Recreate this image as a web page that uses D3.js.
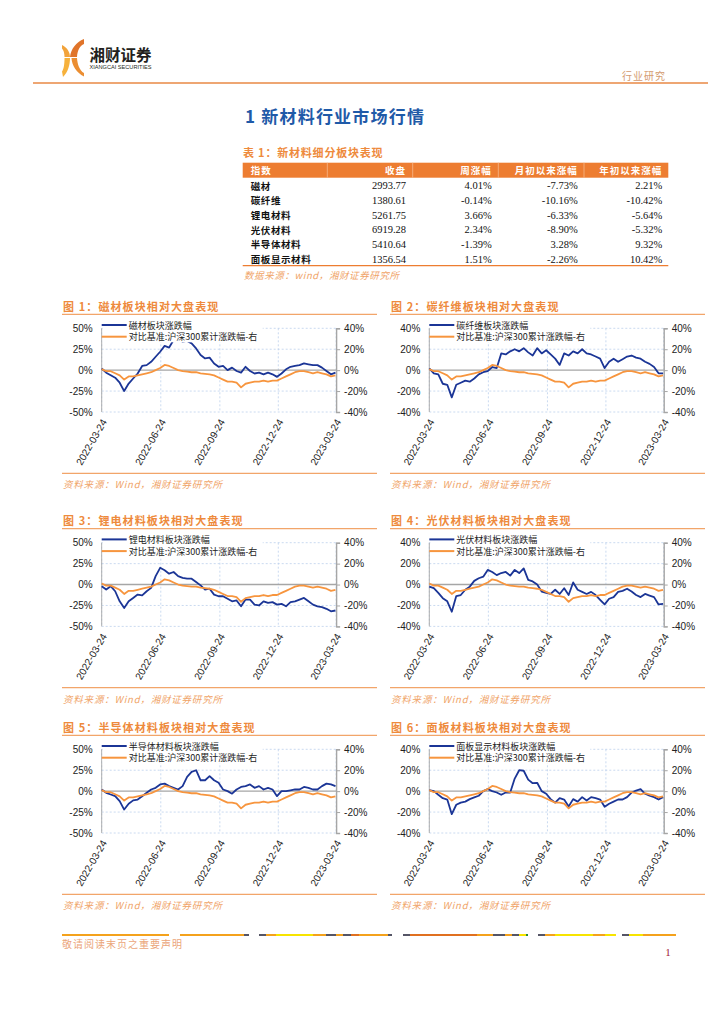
<!DOCTYPE html>
<html><head><meta charset="utf-8">
<script src="https://cdn.jsdelivr.net/npm/d3@7"></script>
<style>
body{margin:0;background:#fff;}
svg{display:block;}
</style></head><body>
<svg id="page" width="724" height="1024"></svg>
<script>
// ---------------- DATA ----------------
const tableColumns = ["指数", "收盘", "周涨幅", "月初以来涨幅", "年初以来涨幅"];
const tableNames = ["磁材", "碳纤维", "锂电材料", "光伏材料", "半导体材料", "面板显示材料"];
const tableClose = ["2993.77", "1380.61", "5261.75", "6919.28", "5410.64", "1356.54"];
const tableWeek = ["4.01%", "-0.14%", "3.66%", "2.34%", "-1.39%", "1.51%"];
const tableMonth = ["-7.73%", "-10.16%", "-6.33%", "-8.90%", "3.28%", "-2.26%"];
const tableYear = ["2.21%", "-10.42%", "-5.64%", "-5.32%", "9.32%", "10.42%"];

const dateTickLabels = ["2022-03-24", "2022-06-24", "2022-09-24", "2022-12-24", "2023-03-24"];
const ticks50 = [50, 25, 0, -25, -50];
const ticks40 = [40, 20, 0, -20, -40];

// weekly readings (% change) starting 2022-03-24
const csi300Change = [1,-1,-1,-3,-5,-9,-6,-6,-5,-4,-3,-2,0,2,5,4,2,0,-1,-1.5,-2,-2,-3,-3.5,-4,-5,-7,-9,-11,-11,-12,-16.5,-13,-12,-11,-11,-10,-11,-10,-10,-8,-6,-4,-2,-1,-1,-2,-3,-2,-3,-4,-6,-5];
const magneticChange = [2,-3,-6,-9,-15,-25,-16,-10,-4,5,6,10,16,22,29,27,36,38,34,35,32,26,18,14,15,8,4,5,0,3,-1,-3,4,-1,-4,-3,-5,-3,-5,-8,-4,1,4,5,6,8,7,6,6,3,-1,-5,-3];
const carbonFiberChange = [1.6,-3,-4,-13,-14,-26,-14,-12,-10,-11,-8,-4,-2,-1,3,2,16,15,18,20,18,21,17,14,21,16,19,15,11,5,16,14,18,16,20,16,15,13,11,2,8,11,8,10.5,13,14,12,11,8,6,3,-3,-3];
const lithiumChange = [-2,-6,-2,-8,-20,-28,-20,-16,-12,-13,-8,-4,10,20,17,13,15,10,8,7,7,3,-1,-6,-5,-12,-14,-14,-17,-20,-19,-26,-18,-18,-24,-25,-20,-22,-21,-24,-23,-26,-21,-20,-18,-16,-20,-24,-26,-27,-29,-32,-31];
const pvChange = [-2,-3.5,-8,-13,-16,-26,-11,-10,-5,-2,3.5,6,7.5,14,12,9,11,12,8.5,14,11,15.5,4.5,3,0,-6.7,-8,-9,-5,-9,-3.5,-10,2,-5,-7,-9,-7,-10,-14.6,-19,-13.6,-12,-7,-6,-4,-6.7,-10,-12,-9,-10.5,-12,-19,-18.5];
const semiconductorChange = [2,-2,-4,-6,-12,-22,-15,-11,-10,-6,-2,2,4,8,9,6,4,2,6,17,23,25,13,13,18,13,10,2,0,-3,2,5,6,8,4,6,2,4,2,-6,0,0,1,2,2,5,4,2,2,6,9,8,6];
const displayChange = [1,0,-3.5,-6.7,-8,-22,-13,-11,-10,-7.6,-6,-4.4,0,2,0,-1.3,-3.5,-1.3,-1.3,12,20,19.5,11,7.6,8,0,-2.5,-7.6,-11,-6.7,-8,-14.6,-7.6,-10,-5.7,-9,-5.7,-6.7,-8,-15,-12,-10,-8,-8,-5.7,-1.3,0.6,2,-2.5,-4.4,-5.7,-8,-5.7];

const chartTitles = ["图 1：磁材板块相对大盘表现", "图 2：碳纤维板块相对大盘表现", "图 3：锂电材料板块相对大盘表现",
  "图 4：光伏材料板块相对大盘表现", "图 5：半导体材料板块相对大盘表现", "图 6：面板材料板块相对大盘表现"];
const sectorLegends = ["磁材板块涨跌幅", "碳纤维板块涨跌幅", "锂电材料板块涨跌幅", "光伏材料板块涨跌幅", "半导体材料板块涨跌幅", "面板显示材料板块涨跌幅"];
const benchmarkLegend = "对比基准:沪深300累计涨跌幅-右";
const sectorSeries = [magneticChange, carbonFiberChange, lithiumChange, pvChange, semiconductorChange, displayChange];
const leftTickSets = [ticks50, ticks40, ticks50, ticks40, ticks50, ticks40];

const footerSegments = [
  [62,169,"#f4a21c"],[180,244,"#f4a21c"],[244,249,"#555566"],[259,266,"#555566"],[266,276,"#f4a21c"],[276,313,"#f7e400"],
  [313,326,"#f4a21c"],[326,336,"#555566"],[336,343,"#f4a21c"],[343,351,"#555566"],[351,359,"#e07020"],[359,388,"#f4a21c"],
  [388,392,"#555566"],[403,410,"#555566"],[410,477,"#e07020"],[477,493,"#f4a21c"],[493,505,"#555566"],[505,512,"#f4a21c"],
  [512,519,"#555566"],[519,526,"#f7e400"],[526,528,"#2a8a3a"],[538,545,"#555566"],[545,555,"#f4a21c"],[555,593,"#f7e400"],
  [593,605,"#f4a21c"],[605,616,"#f7e400"],[622,629,"#555566"],[629,643,"#f7e400"],[643,676,"#f4a21c"]];

// ---------------- DRAW ----------------
const svg = d3.select("#page");
const CJK = "'Noto Sans CJK SC','Noto Sans',sans-serif";
const SANS = "'Liberation Sans',Arial,sans-serif";
const SERIF = "'Liberation Serif','Times New Roman',serif";
const ORANGE = "#ee8a3c";

// Header logo
const logo = svg.append("g");
logo.append("path").attr("d","M84,39 C76,42 71,49 70,57 L77,57 C77.5,50 80,45.5 84,44 Z").attr("fill","#e0742a");
logo.append("path").attr("d","M62,45 C67,47.5 70,52 70,57 L64.5,57 C64.5,53 63.5,50 62,48.5 Z").attr("fill","#f2a33a");
logo.append("path").attr("d","M63,77 C68,72 70,65 70,58 L64.5,58 C64.5,65 63.5,69.5 62,71.5 Z").attr("fill","#f6b13c");
logo.append("path").attr("d","M84,73 C79.5,70.5 77.5,64.5 77,58 L71.5,58 C72,66 76.5,72.5 84,76.5 Z").attr("fill","#eb8e32");
svg.append("text").attr("x",89.5).attr("y",54).attr("dominant-baseline","central")
  .style("font-family",CJK).style("font-size","15.5px").style("font-weight","700").attr("fill","#231f20")
  .attr("textLength",62).text("湘财证券");
svg.append("text").attr("x",89.5).attr("y",66.5).attr("dominant-baseline","central")
  .style("font-family",SANS).style("font-size","6px").attr("fill","#231f20")
  .attr("textLength",62).attr("lengthAdjust","spacingAndGlyphs").text("XIANGCAI SECURITIES");
svg.append("text").attr("x",622).attr("y",75).attr("dominant-baseline","central")
  .style("font-family",CJK).style("font-size","10px").attr("fill","#d39a6e").style("letter-spacing","1px").text("行业研究");
svg.append("line").attr("x1",33).attr("x2",708).attr("y1",83).attr("y2",83).attr("stroke","#e98845").attr("stroke-width",1.5);

svg.append("text").attr("x",245).attr("y",115).attr("dominant-baseline","central")
  .style("font-family",CJK).style("font-size","17px").style("font-weight","700").attr("fill","#1f5aa8")
  .style("letter-spacing","1.2px").text("1 新材料行业市场行情");

// Table
svg.append("text").attr("x",243).attr("y",152).attr("dominant-baseline","central")
  .style("font-family",CJK).style("font-size","11px").style("font-weight","700").attr("fill",ORANGE)
  .style("letter-spacing","0.8px").text("表 1：新材料细分板块表现");
const tX0 = 242.7, tX1 = 668.3;
svg.append("rect").attr("x",tX0).attr("y",162.7).attr("width",tX1-tX0).attr("height",15).attr("fill","#ed7d31");
[327.3,412.7,498.3,584].forEach(x=>svg.append("line").attr("x1",x).attr("x2",x).attr("y1",162.7).attr("y2",177.7).attr("stroke","#f6b98c").attr("stroke-width",0.8));
const colAnchors = [250.7, 406, 491.7, 577.7, 662.3];
tableColumns.forEach((c,i)=>{
  svg.append("text").attr("x",colAnchors[i]).attr("y",170.3).attr("dominant-baseline","central")
    .attr("text-anchor", i===0 ? "start" : "end")
    .style("font-family",CJK).style("font-size","9.5px").style("font-weight","700").attr("fill","#fff")
    .style("letter-spacing","1px").text(c);
});
const rowY = d3.scaleLinear().domain([0,5]).range([185.7,259]);
tableNames.forEach((name,r)=>{
  const y = rowY(r);
  svg.append("text").attr("x",colAnchors[0]).attr("y",y).attr("dominant-baseline","central")
    .style("font-family",CJK).style("font-size","9.5px").style("font-weight","700").attr("fill","#111")
    .style("letter-spacing","0.6px").text(name);
  [tableClose[r], tableWeek[r], tableMonth[r], tableYear[r]].forEach((v,c)=>{
    svg.append("text").attr("x",colAnchors[c+1]).attr("y",y).attr("dominant-baseline","central").attr("text-anchor","end")
      .style("font-family",SERIF).style("font-size","10.5px").attr("fill","#111").text(v);
  });
});
svg.append("line").attr("x1",tX0).attr("x2",tX1).attr("y1",265.7).attr("y2",265.7).attr("stroke","#ed7d31").attr("stroke-width",1.3);
svg.append("text").attr("x",244).attr("y",275).attr("dominant-baseline","central")
  .style("font-family",CJK).style("font-size","9.5px").style("font-style","italic").attr("fill","#f0a468")
  .style("letter-spacing","0.6px").text("数据来源：wind，湘财证券研究所");

// Charts
const startDate = new Date(2022,2,24), endDate = new Date(2023,2,24);
const weekDates = csi300Change.map((_,i)=>d3.timeDay.offset(startDate, 7*i));
const tickDates = dateTickLabels.map(s=>d3.timeParse("%Y-%m-%d")(s));
const rowTops = [328.3, 542.7, 749.3];

function drawChart(idx){
  const col = idx % 2, row = Math.floor(idx/2);
  const blockL = col===0 ? 62 : 390;
  const L = col===0 ? 101.7 : 429.3, R = L + 234.4;
  const T = rowTops[row], B = T + 83.7;
  const lt = leftTickSets[idx], lmax = d3.max(lt);
  const g = svg.append("g");
  const x = d3.scaleTime().domain([startDate,endDate]).range([L,R]);
  const yL = d3.scaleLinear().domain([-lmax,lmax]).range([B,T]);
  const yR = d3.scaleLinear().domain([-40,40]).range([B,T]);

  g.append("text").attr("x",blockL+1).attr("y",T-22.3).attr("dominant-baseline","central")
    .style("font-family",CJK).style("font-size","11px").style("font-weight","700").attr("fill",ORANGE)
    .style("letter-spacing","1.1px").text(chartTitles[idx]);
  g.append("line").attr("x1",blockL).attr("x2",blockL+315).attr("y1",T-14).attr("y2",T-14).attr("stroke","#f2a56a").attr("stroke-width",1.2);

  g.selectAll(".hg").data(lt.filter(v=>v!==0)).join("line")
    .attr("x1",L).attr("x2",R).attr("y1",d=>yL(d)).attr("y2",d=>yL(d))
    .attr("stroke","#bcd0ec").attr("stroke-width",0.8).attr("stroke-dasharray","2,2");
  g.selectAll(".vg").data(tickDates).join("line")
    .attr("x1",d=>x(d)).attr("x2",d=>x(d)).attr("y1",T).attr("y2",B)
    .attr("stroke","#bcd0ec").attr("stroke-width",0.8).attr("stroke-dasharray","2,2");
  g.append("line").attr("x1",L).attr("x2",R).attr("y1",yL(0)).attr("y2",yL(0)).attr("stroke","#a6a6a6").attr("stroke-width",1.4);
  g.append("line").attr("x1",L).attr("x2",L).attr("y1",T).attr("y2",B).attr("stroke","#a6a6a6").attr("stroke-width",0.9);

  g.selectAll(".ll").data(lt).join("text")
    .attr("x",L-9).attr("y",d=>yL(d)).attr("dominant-baseline","central").attr("text-anchor","end")
    .style("font-family",SANS).style("font-size","10px").attr("fill","#222").text(d=>d+"%");

  const rAxis = d3.axisRight(yR).tickValues(ticks40).tickFormat(d=>d+"%").tickSize(4).tickPadding(4);
  const ra = g.append("g").attr("transform",`translate(${R},0)`).call(rAxis);
  ra.select(".domain").attr("stroke","#a6a6a6").attr("stroke-width",1.4);
  ra.selectAll(".tick line").attr("stroke","#a6a6a6");
  ra.selectAll("text").style("font-family",SANS).style("font-size","10px").attr("fill","#222");

  g.selectAll(".dl").data(tickDates).join("text")
    .attr("transform",d=>`translate(${x(d)+2.5},${B+8}) rotate(-60)`)
    .attr("text-anchor","end").attr("dy","0.35em")
    .style("font-family",SANS).style("font-size","10px").attr("fill","#222")
    .text((d,i)=>dateTickLabels[i]);

  const blueLine = d3.line().x((d,i)=>x(weekDates[i])).y(d=>yL(d)).curve(d3.curveLinear);
  const orangeLine = d3.line().x((d,i)=>x(weekDates[i])).y(d=>yR(d)).curve(d3.curveLinear);
  g.append("path").attr("d",blueLine(sectorSeries[idx])).attr("fill","none").attr("stroke","#1b3596").attr("stroke-width",1.8).attr("stroke-linejoin","round");
  g.append("path").attr("d",orangeLine(csi300Change)).attr("fill","none").attr("stroke","#f7953e").attr("stroke-width",1.8).attr("stroke-linejoin","round");

  const lg = g.append("g");
  lg.append("rect").attr("x",L+1).attr("y",T-9.5).attr("width",160).attr("height",23.5).attr("fill","#fff");
  [[sectorLegends[idx],"#1b3596",T-3.3],[benchmarkLegend,"#f7953e",T+8.4]].forEach(([t,c,y])=>{
    lg.append("line").attr("x1",L).attr("x2",L+25).attr("y1",y).attr("y2",y).attr("stroke",c).attr("stroke-width",2);
    lg.append("text").attr("x",L+27).attr("y",y).attr("dominant-baseline","central")
      .style("font-family",CJK).style("font-size","9px").attr("fill","#222").text(t);
  });

  g.append("line").attr("x1",blockL).attr("x2",blockL+315).attr("y1",T+145).attr("y2",T+145).attr("stroke","#f2a56a").attr("stroke-width",1.2);
  g.append("text").attr("x",blockL+1).attr("y",T+156).attr("dominant-baseline","central")
    .style("font-family",CJK).style("font-size","9.5px").style("font-style","italic").attr("fill","#f0a468")
    .style("letter-spacing","0.8px").text("资料来源：Wind，湘财证券研究所");
}
for(let i=0;i<6;i++) drawChart(i);

// Footer
svg.selectAll(".fs").data(footerSegments).join("line")
  .attr("x1",d=>d[0]).attr("x2",d=>d[1]).attr("y1",935).attr("y2",935).attr("stroke",d=>d[2]).attr("stroke-width",2);
svg.append("text").attr("x",62).attr("y",943.5).attr("dominant-baseline","central")
  .style("font-family",CJK).style("font-size","10px").attr("fill","#eba57a").style("letter-spacing","1px").text("敬请阅读末页之重要声明");
svg.append("text").attr("x",668).attr("y",952).attr("dominant-baseline","central").attr("text-anchor","middle")
  .style("font-family",SERIF).style("font-size","11px").attr("fill","#a3223a").text("1");
</script>
</body></html>
